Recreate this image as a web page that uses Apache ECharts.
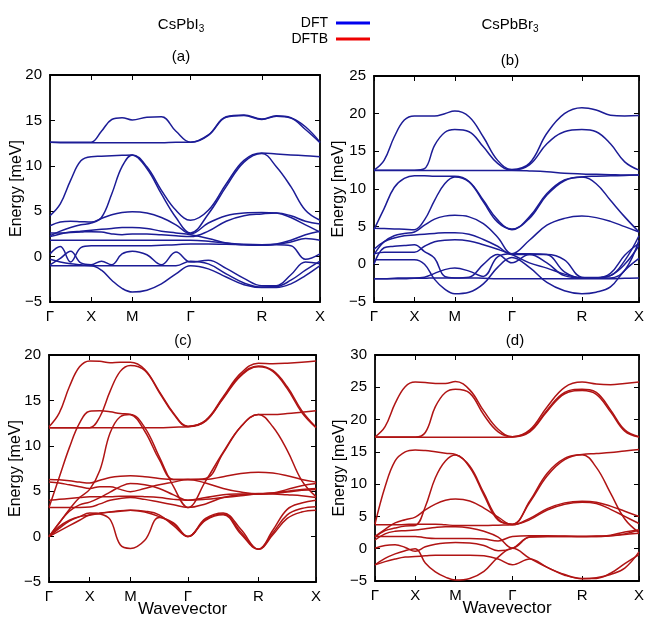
<!DOCTYPE html>
<html><head><meta charset="utf-8">
<script src="https://cdn.jsdelivr.net/npm/echarts@6/dist/echarts.min.js"></script>
<style>html,body{margin:0;padding:0;background:#fff}#c{width:647px;height:621px}</style>
</head><body><div id="c"></div>
<script>
// high-symmetry path
const K_LABELS = ['Γ','X','M','Γ','R','X'];
const K_POS = [0, 0.5, 1.0, 1.7071, 2.5731, 3.2802];
const Y_TICKS = {a:[-5,20,5], b:[-5,25,5], c:[-5,20,5], d:[-5,30,5]};

// sample positions: quarter points of each path segment
const XS = [];
for (let s = 0; s < 5; s++) for (let j = (s === 0 ? 0 : 1); j <= 4; j++) XS.push(K_POS[s] + (K_POS[s+1]-K_POS[s]) * j / 4);

// (a) CsPbI3 DFT
const BANDS_A = [
 [12.6,12.6,12.6,12.6,12.6, 13.8,15.1,15.3,15.05, 15.35,15.4,13.8,12.6, 13.4,15.4,15.6,15.15, 15.5,15.3,14.3,12.6],
 [12.6,12.55,12.55,12.55,12.55, 12.55,12.55,12.55,12.55, 12.55,12.55,12.6,12.6, 13.35,15.35,15.55,15.1, 15.45,15.25,14.0,12.55],
 [4.5,5.8,8.4,10.55,11.0, 11.05,11.1,11.15,11.2, 9.9,7.3,5.1,4.0, 5.1,8.0,10.6,11.4, 11.3,11.2,11.1,11.0],
 [2.3,2.8,3.2,3.5,3.7, 4.3,6.9,9.9,11.2, 9.7,6.9,4.3,2.6, 4.7,7.7,10.4,11.35, 9.9,7.7,5.1,4.0],
 [3.4,3.8,3.9,3.85,3.8, 4.2,4.6,4.85,4.95, 4.8,4.3,3.5,2.5, 3.7,4.5,4.8,4.85, 4.8,4.3,3.5,2.7],
 [2.2,2.5,2.7,2.8,2.9, 3.0,3.1,3.2,3.2, 3.1,2.8,2.6,2.4, 2.0,1.5,1.3,1.25, 1.4,1.8,2.4,2.8],
 [1.8,1.8,1.8,1.8,1.8, 1.8,1.8,1.8,1.8, 1.8,1.8,1.8,1.8, 1.7,1.5,1.35,1.3, 1.35,1.6,2.0,1.8],
 [0.3,1.1,-0.6,1.0,1.2, 1.2,1.2,1.2,1.2, 1.2,1.25,1.3,1.4, 1.4,1.35,1.3,1.25, 1.3,1.2,-0.3,0.3],
 [-0.9,-0.2,0.6,-0.7,-0.9, -0.5,-0.9,0.3,0.6, 0.2,-0.9,0.5,-0.6, -0.4,-1.3,-2.4,-3.2, -3.2,-2.0,-0.6,-0.8],
 [-1.0,-1.0,-1.0,-1.0,-1.0, -1.5,-2.6,-3.5,-3.9, -3.7,-3.0,-1.9,-1.0, -1.35,-2.25,-3.1,-3.4, -3.4,-3.0,-2.1,-1.0],
 [-0.3,-0.6,-0.8,-0.9,-1.0, -1.0,-1.0,-1.0,-1.0, -1.0,-1.0,-1.0,-0.5, -0.8,-1.9,-2.9,-3.35, -3.3,-2.6,-1.5,-0.5],
 [2.6,2.6,2.65,2.7,2.75, 2.7,2.5,2.4,2.5, 2.5,2.4,2.3,2.2, 2.8,3.9,4.5,4.7, 4.8,4.5,3.9,3.6]
];
// (b) CsPbBr3 DFT
const BANDS_B = [
 [12.5,13.8,16.9,19.15,19.7, 19.7,19.7,20.0,20.35, 19.6,16.9,13.8,12.6, 13.4,17.4,20.0,20.8, 20.5,19.8,19.7,19.75],
 [12.5,12.5,12.5,12.5,12.5, 12.7,15.8,17.5,17.9, 17.6,15.6,13.4,12.5, 13.2,16.0,17.6,17.9, 17.6,16.0,13.6,12.5],
 [12.45,12.45,12.45,12.45,12.45, 12.45,12.45,12.45,12.45, 12.45,12.45,12.45,12.45, 12.4,12.3,12.1,12.0, 11.95,11.9,11.85,11.85],
 [4.6,7.4,10.2,11.4,11.75, 11.75,11.7,11.7,11.7, 11.0,8.5,5.9,4.6, 6.3,9.4,11.2,11.6, 11.7,11.75,11.8,11.85],
 [4.8,4.75,4.7,4.65,4.6, 5.9,8.5,10.7,11.6, 10.95,8.3,5.6,4.7, 6.1,9.2,11.1,11.6, 10.7,8.5,6.3,4.3],
 [1.3,3.0,3.8,4.1,4.3, 5.2,6.0,6.4,6.5, 6.3,5.4,3.6,1.4, 3.2,5.2,6.1,6.4, 6.2,5.7,5.0,4.3],
 [2.0,3.0,3.5,3.8,3.9, 4.0,4.1,4.2,4.2, 4.0,3.3,2.4,1.3, 1.3,1.3,0.6,-1.7, -1.75,-1.5,0.5,3.8],
 [-1.9,-1.9,-1.9,-1.9,-1.85, -1.85,-1.8,-1.8,-1.8, -1.8,-1.85,-1.9,-1.9, -1.9,-1.9,-1.9,-1.9, -1.9,-1.9,-1.85,-1.8],
 [0.6,0.6,0.6,0.6,0.6, 0.0,-2.0,-3.3,-3.9, -3.7,-2.6,-0.4,0.9, -0.4,-2.4,-3.5,-3.9, -3.7,-3.0,-0.8,0.8],
 [-1.9,-1.9,-1.85,-1.8,-1.8, -1.7,-1.2,-0.7,-0.5, -0.9,-1.6,1.0,1.4, 1.4,1.3,-1.0,-1.8, -1.8,-1.2,1.2,2.8],
 [1.4,1.6,1.6,1.6,1.6, 2.4,3.0,3.2,3.25, 3.1,2.6,2.0,1.3, 0.2,-0.5,-1.3,-1.8, -1.8,-1.5,0.0,2.5],
 [0.0,2.2,2.4,2.5,2.6, 1.7,0.8,-1.6,-1.8, -1.7,0.0,1.3,0.2, 1.3,0.2,-1.5,-1.8, -1.8,-1.8,-0.8,3.2]
];
// (c) CsPbI3 DFTB
const BANDS_C = [
 [12.1,13.6,16.5,18.7,19.35, 19.3,19.15,19.2,19.2, 18.4,16.0,13.6,12.15, 12.8,15.4,18.0,19.1, 19.05,19.1,19.2,19.35],
 [12.0,12.0,12.0,12.0,12.0, 13.2,16.0,18.2,18.85, 18.3,15.9,13.5,12.1, 12.7,15.3,17.8,18.8, 18.3,16.5,13.9,12.05],
 [12.0,12.0,12.0,12.0,12.0, 12.0,12.0,12.0,12.0, 12.0,12.0,12.05,12.1, 12.75,15.2,17.7,18.7, 18.2,16.3,13.7,12.0],
 [3.2,6.5,9.8,12.5,13.8, 13.85,13.75,13.55,13.45, 11.6,8.5,6.3,6.3, 6.4,9.2,12.1,13.45, 13.45,13.55,13.7,13.85],
 [0.0,1.5,3.0,4.3,5.2, 7.3,11.4,13.2,13.45, 12.0,8.8,5.5,3.2, 6.1,9.3,12.1,13.45, 12.1,9.5,6.2,4.4],
 [6.3,6.25,6.15,6.0,5.9, 6.2,6.5,6.65,6.7, 6.6,6.4,6.3,6.3, 6.3,6.6,6.95,7.1, 7.0,6.7,6.3,6.0],
 [6.0,5.9,5.7,5.5,5.3, 5.5,5.5,5.2,4.95, 5.3,5.7,6.0,6.3, 5.9,5.3,4.9,4.7, 4.75,4.9,5.1,5.2],
 [4.0,4.1,4.2,4.3,4.4, 4.4,4.4,4.45,4.45, 4.4,4.3,4.1,4.0, 4.1,4.3,4.5,4.7, 4.7,4.6,4.5,4.3],
 [3.2,3.2,3.2,3.2,3.25, 3.6,4.0,4.2,4.3, 4.1,3.8,3.5,3.2, 3.6,4.3,4.6,4.7, 4.8,5.0,5.2,5.3],
 [0.0,1.1,1.8,2.2,2.35, 2.55,2.7,2.85,2.9, 2.7,2.2,1.4,0.0, 1.8,2.4,0.3,-1.4, 0.2,2.0,2.7,2.9],
 [0.0,0.9,1.7,2.2,2.6, 2.5,1.9,-0.9,-1.3, -0.4,2.1,1.5,0.0, 2.0,2.6,0.8,-1.4, 0.7,3.0,3.7,4.0],
 [0.0,1.5,2.8,3.5,3.8, 4.3,4.9,5.5,5.85, 5.7,5.3,4.6,4.0, 4.3,4.6,4.7,4.75, 4.8,5.2,5.6,5.85],
 [0.0,0.6,1.2,1.8,2.4, 2.6,2.7,2.8,2.9, 2.8,2.4,1.2,0.0, 1.9,2.5,0.5,-1.4, 0.4,2.4,3.1,3.3]
];
// (d) CsPbBr3 DFTB
const BANDS_D = [
 [17.3,18.9,22.5,25.1,25.8, 25.75,25.6,25.6,25.9, 24.6,21.3,18.5,17.35, 18.4,22.0,25.0,25.8, 25.5,25.4,25.6,25.8],
 [17.3,17.3,17.3,17.3,17.3, 18.0,22.0,24.2,24.7, 24.1,20.7,18.1,17.35, 18.2,21.5,24.2,24.7, 24.2,21.5,18.4,17.35],
 [17.25,17.25,17.25,17.25,17.25, 17.25,17.25,17.25,17.25, 17.25,17.25,17.25,17.3, 18.1,21.3,24.0,24.5, 23.9,21.2,18.2,17.3],
 [3.8,9.6,13.6,15.0,15.3, 15.2,15.0,14.8,14.6, 12.8,8.6,4.6,3.8, 7.4,11.7,14.0,14.6, 14.75,14.9,15.15,15.35],
 [1.8,2.8,3.2,3.5,3.6, 6.5,11.0,13.6,14.5, 12.6,8.3,4.4,3.8, 7.2,11.3,13.8,14.55, 12.6,8.6,4.6,2.5],
 [1.9,3.0,4.0,4.5,4.9, 6.0,6.9,7.5,7.7, 7.4,6.3,4.9,3.7, 4.7,6.2,7.1,7.35, 7.2,6.6,5.8,5.0],
 [3.7,3.7,3.7,3.75,3.8, 3.8,3.8,3.7,3.6, 3.6,3.6,3.65,3.7, 4.5,6.0,6.9,7.2, 7.0,6.1,5.0,3.9],
 [1.35,2.3,2.7,2.8,2.9, 3.1,3.3,3.4,3.4, 3.2,2.7,1.8,0.1, 1.8,1.9,1.9,1.9, 1.9,2.0,2.2,2.4],
 [1.9,1.9,1.9,1.9,1.9, 1.7,1.6,1.6,1.6, 1.6,1.5,1.2,1.9, 2.0,2.0,1.95,1.9, 1.9,2.1,2.6,2.9],
 [0.06,0.5,0.6,0.2,-0.4, 0.3,0.7,0.9,0.95, 0.9,0.5,-0.3,0.06, 1.8,1.9,1.9,1.9, 1.95,2.0,2.3,2.9],
 [-2.5,-1.5,-0.8,-0.3,0.0, -2.2,-3.6,-4.4,-4.85, -4.6,-3.5,-1.3,0.06, -1.5,-2.9,-4.0,-4.6, -4.6,-3.8,-2.3,-0.9],
 [-2.5,-2.0,-1.6,-1.3,-1.2, -1.1,-1.0,-1.0,-1.0, -1.0,-1.1,-1.6,-2.5, -1.6,-2.9,-4.1,-4.65, -4.5,-4.0,-3.0,-0.5]
];

const PANELS = [
 {key:'a', bands:BANDS_A, name:'DFT', color:'#1c1c96', gap:25, grid:{left:50, top:75, width:270, height:227}},
 {key:'b', bands:BANDS_B, name:'DFT', color:'#1c1c96', gap:27, grid:{left:374, top:76, width:268, height:226}},
 {key:'c', bands:BANDS_C, name:'DFTB', color:'#b01414', gap:25, grid:{left:49, top:355, width:267, height:227}},
 {key:'d', bands:BANDS_D, name:'DFTB', color:'#b01414', gap:27, grid:{left:375, top:355, width:268, height:226}}
];

const FONT = "'Liberation Sans', Arial, sans-serif";
const kLabel = v => { for (let i = 0; i < K_POS.length; i++) if (Math.abs(K_POS[i]-v) < 1e-6) return K_LABELS[i]; return ''; };
const yLabel = v => String(v).replace('-', '\u2212');

const grid = [], xAxis = [], yAxis = [], series = [];
PANELS.forEach((p, gi) => {
  grid.push(p.grid);
  const [ymin, ymax, yint] = Y_TICKS[p.key];
  const line = {show:true, onZero:false, lineStyle:{color:'#000', width:1.8}};
  const tick = {show:true, inside:true, length:5, lineStyle:{color:'#000', width:1}};
  xAxis.push({gridIndex:gi, type:'value', position:'bottom', min:0, max:K_POS[5],
    axisLine:line, splitLine:{show:false},
    axisTick:Object.assign({customValues:K_POS}, tick),
    axisLabel:{customValues:K_POS, formatter:kLabel, color:'#000', fontSize:15, fontFamily:FONT, margin:7},
    name: gi >= 2 ? 'Wavevector' : '', nameLocation:'middle', nameGap:19, nameMoveOverlap:false,
    nameTextStyle:{color:'#000', fontSize:17, fontFamily:FONT}});
  xAxis.push({gridIndex:gi, type:'value', position:'top', min:0, max:K_POS[5],
    axisLine:line, splitLine:{show:false},
    axisTick:Object.assign({customValues:K_POS}, tick), axisLabel:{show:false}});
  yAxis.push({gridIndex:gi, type:'value', position:'left', min:ymin, max:ymax, interval:yint,
    axisLine:line, splitLine:{show:false}, axisTick:tick,
    axisLabel:{formatter:yLabel, color:'#000', fontSize:15, fontFamily:FONT, margin:8},
    name:'Energy [meV]', nameLocation:'middle', nameGap:p.gap, nameMoveOverlap:false,
    nameTextStyle:{color:'#000', fontSize:16, fontFamily:FONT}});
  yAxis.push({gridIndex:gi, type:'value', position:'right', min:ymin, max:ymax, interval:yint,
    axisLine:line, splitLine:{show:false}, axisTick:tick, axisLabel:{show:false}});
  p.bands.forEach(b => {
    series.push({type:'line', name:p.name, xAxisIndex:2*gi, yAxisIndex:2*gi,
      data: XS.map((x, i) => [x, b[i]]), smooth:0.4,
      showSymbol:false, symbol:'none', silent:true,
      lineStyle:{color:p.color, width:1.5}, itemStyle:{color:p.color}});
  });
});

const tStyle = {fontSize:15, fontWeight:'normal', color:'#000', fontFamily:FONT,
  rich:{s:{fontSize:10, fontFamily:FONT, color:'#000', padding:[9,0,0,0]}}};
const chart = echarts.init(document.getElementById('c'), null, {renderer:'canvas'});
chart.setOption({
  animation:false, backgroundColor:'#fff',
  title:[
    {text:'CsPbI{s|3}', left:181, top:15, textAlign:'center', padding:0, textStyle:tStyle},
    {text:'CsPbBr{s|3}', left:510, top:15, textAlign:'center', padding:0, textStyle:tStyle},
    {text:'(a)', left:181, top:49, textAlign:'center', padding:0, textStyle:tStyle},
    {text:'(b)', left:510, top:53, textAlign:'center', padding:0, textStyle:tStyle},
    {text:'(c)', left:183, top:333, textAlign:'center', padding:0, textStyle:tStyle},
    {text:'(d)', left:515, top:333, textAlign:'center', padding:0, textStyle:tStyle}
  ],
  graphic:[
    {type:'text', x:328, y:23, style:{text:'DFT', align:'right', verticalAlign:'middle', fill:'#000', font:'14px ' + FONT}},
    {type:'line', shape:{x1:336, y1:23, x2:370, y2:23}, style:{stroke:'#0000ee', lineWidth:3}},
    {type:'text', x:328, y:39, style:{text:'DFTB', align:'right', verticalAlign:'middle', fill:'#000', font:'14px ' + FONT}},
    {type:'line', shape:{x1:336, y1:39, x2:370, y2:39}, style:{stroke:'#ee0000', lineWidth:3}}
  ],
  grid, xAxis, yAxis, series
});
</script></body></html>
